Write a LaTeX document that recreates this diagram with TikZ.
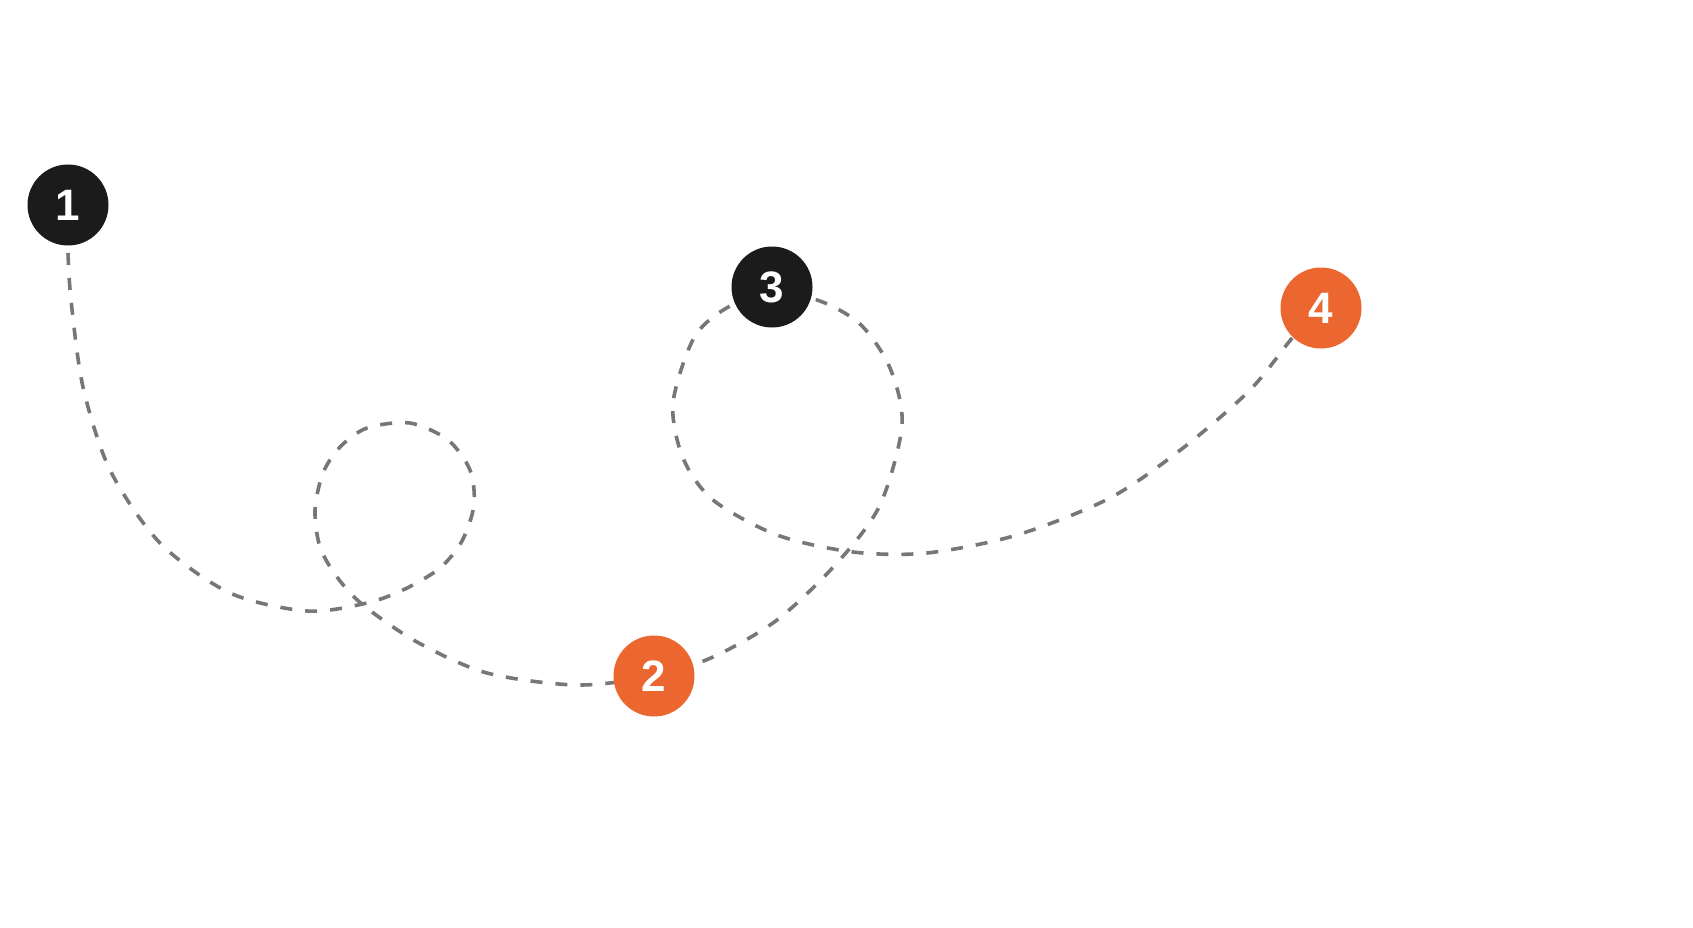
\documentclass[tikz,border=0pt]{standalone}
\usepackage{fontspec}
\setmainfont{Liberation Sans}
\definecolor{dotdark}{HTML}{1B1B1B}
\definecolor{dotorange}{HTML}{EC6630}
\definecolor{routegray}{HTML}{777777}
\begin{document}
\begin{tikzpicture}[x=1pt,y=-1pt,
  stepdot/.style={circle,minimum size=81pt,inner sep=0pt,text=white,
    font=\fontsize{44}{44}\selectfont\bfseries},
  darkdot/.style={stepdot,fill=dotdark},
  orangedot/.style={stepdot,fill=dotorange},
  route/.style={draw=routegray,line width=3.6pt,dash pattern=on 12pt off 13pt}]
\useasboundingbox (0,0) rectangle (1693,928);
\coordinate (p1) at (68,205);
\coordinate (p2) at (654,676);
\coordinate (p3) at (772,287);
\coordinate (p4) at (1321,308);
\coordinate (s1) at (68,253);
\coordinate (t3) at (772,296);
\path[route] plot[smooth,tension=0.5] coordinates {
  (s1) (71,300) (83,387) (110,470) (160,543) (230,593) (307,611)
  (367,603) (405,589) (440,568) (462,541) (474,505) (470,470)
  (448,440) (410,423) (367,428) (340,447) (323,473)
  (315,510) (320,547) (337,577) (363,605) (417,642) (487,673)
  (577,685) (p2)
  (713,657) (777,620) (837,563) (880,505) (902,425) (890,368)
  (860,324) (817,300) (t3) (732,305) (695,336) (673,403) (683,458)
  (713,500) (777,535) (853,552) (927,553) (1017,535) (1110,498)
  (1183,448) (1250,390) (1293,337) (p4)};
\node[darkdot]   (n1) at (p1) {1};
\node[orangedot] (n2) at (p2) {2};
\node[darkdot]   (n3) at (p3) {3};
\node[orangedot] (n4) at (p4) {4};
\end{tikzpicture}
\end{document}
